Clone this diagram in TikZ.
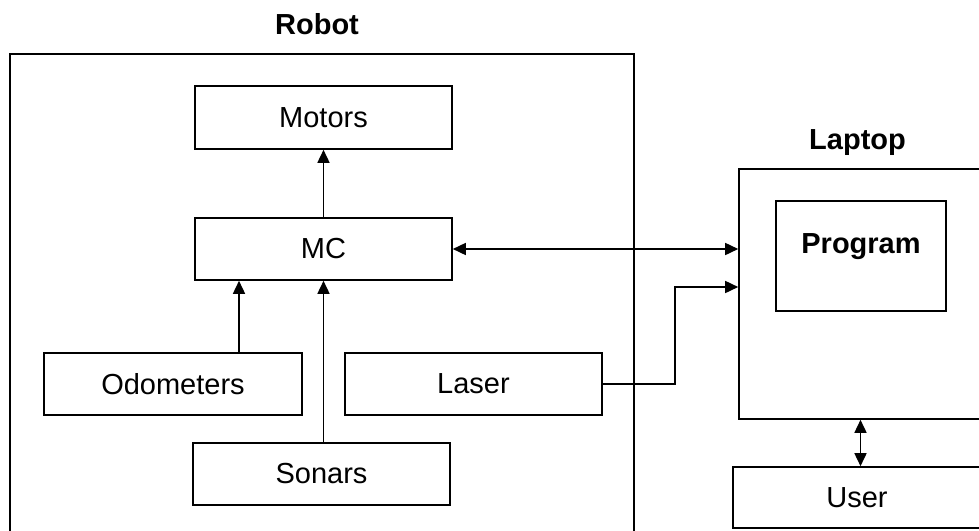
\documentclass[tikz,border=0pt]{standalone}
\usepackage{fontspec}
\setmainfont{Liberation Sans}
\usetikzlibrary{arrows.meta}
\newcommand\diagfont{\fontsize{29}{34}\selectfont}
\newcommand\headfont{\fontsize{29}{34}\selectfont\bfseries}
\begin{document}
\begin{tikzpicture}[x=1pt,y=-1pt,
  line width=1.6pt,
  unit/.style={draw, rectangle, inner sep=0pt, font=\diagfont},
  head/.style={anchor=base, inner sep=0pt, font=\headfont},
  tip/.tip={Triangle[length=13pt,width=12pt]},
  flow/.style={-tip},
  both/.style={tip-tip}]
\useasboundingbox (0,0) rectangle (979,530);

% enclosures (open towards the page edges)
\draw (10,545) -- (10,54) -- (634,54) -- (634,545);
\node[head] (robotlbl) at (317,34) {Robot};
\node[unit, minimum width=243pt, minimum height=250pt] (laptop) at (860.5,294) {};
\node[head] (laptoplbl) at (857.5,149) {Laptop};

% robot components
\node[unit, minimum width=257pt, minimum height=63pt] (motors) at (323.5,117.5) {Motors};
\node[unit, minimum width=257pt, minimum height=62pt] (mc) at (323.5,249) {MC};
\node[unit, minimum width=258pt, minimum height=62pt] (odo) at (173,384) {Odometers};
\node[unit, minimum width=257pt, minimum height=62pt] (laser) at (473.5,384) {Laser};
\node[unit, minimum width=257pt, minimum height=62pt] (sonars) at (321.5,474) {Sonars};

% laptop contents and user
\node[unit, minimum width=170pt, minimum height=110pt] (prog) at (861,256) {};
\node[head] (progtxt) at (861,253) {Program};
\node[unit, minimum width=248pt, minimum height=61pt] (user) at (857,497.5) {User};

% connectors
\coordinate (odotap) at (239,0);
\coordinate (laserbend) at (675,287);
\draw[flow] (mc.north) -- (motors.south);
\draw[flow] (odotap |- odo.north) -- (odotap |- mc.south);
\draw[flow] (mc.south |- sonars.north) -- (mc.south);
\draw[both] (mc.east) -- (mc.east -| laptop.west);
\draw[flow] (laser.east) -| (laserbend) -- (laserbend -| laptop.west);
\draw[both] (laptop.south) -- (laptop.south |- user.north);
\end{tikzpicture}
\end{document}
